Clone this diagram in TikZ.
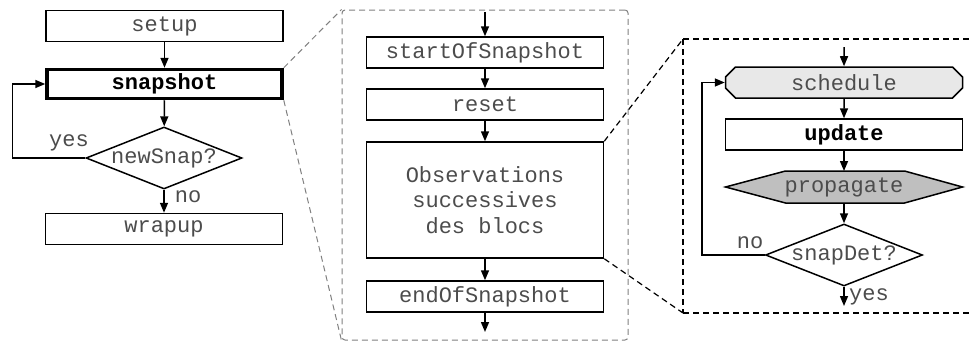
\documentclass[tikz,border=0pt]{standalone}
\usepackage{fontspec}
\setmainfont{Liberation Mono}
\usepackage{tikz}
\usetikzlibrary{arrows.meta,shapes.geometric,shapes.misc,backgrounds}
\newcommand{\flowfont}{\fontsize{22}{25.5}\selectfont}

\begin{document}
\begin{tikzpicture}[x=1pt, y=-1pt, font=\flowfont,
    block/.style={draw, line width=1.5pt, minimum width=237pt, minimum height=31pt, inner sep=0pt, text=black!70},
    bold/.style={font=\flowfont\bfseries, text=black},
    decision/.style={diamond, draw, line width=1.5pt, minimum width=156pt, minimum height=62pt, inner sep=0pt, text=black!70},
    lbl/.style={text=black!70, inner sep=0pt},
    flow/.style={-{Triangle[length=10pt,width=8pt]}, line width=1.5pt},
    zoomline/.style={dash pattern=on 6pt off 4pt, line width=1.2pt}]
      \useasboundingbox (0,0) rectangle (971,343);
      % left column
      \node[block] (setup) at (164.5,26) {setup};
      \node[block, bold, line width=3.5pt, minimum width=235pt, minimum height=29pt] (snap) at (164.5,84) {snapshot};
      \node[decision] (newsnap) at (164,158) {\makebox[0pt]{newSnap?}};
      \node[block] (wrapup) at (164,229) {wrapup};
      \draw[flow] (setup) -- (snap);
      \draw[flow] (snap) -- (newsnap);
      \draw[flow] (newsnap) -- (wrapup);
      \draw[flow] (newsnap.west) -- ++(-73,0) |- (snap.west);
      \node[lbl] (yes1) at (69,143) {yes};
      \node[lbl] (no1) at (188,197) {no};
      % middle column: inside snapshot
      \node[draw, gray, zoomline, line width=1pt, rounded corners=3pt, minimum width=286pt, minimum height=330pt] (frame1) at (485,175) {};
      \draw[gray, zoomline, line width=1pt] (snap.north east) -- (frame1.north west);
      \draw[gray, zoomline, line width=1pt] (snap.south east) -- (frame1.south west);
      \coordinate (min) at (485,12);
      \node[block] (start) at (485,52.5) {startOfSnapshot};
      \node[block] (reset) at (485,104.5) {reset};
      \node[block, minimum height=116pt, align=center] (obs) at (485,200) {Observations\\successives\\des blocs};
      \node[block] (end) at (485,296.5) {endOfSnapshot};
      \coordinate (mout) at (485,332);
      \draw[flow] (min) -- (start);
      \draw[flow] (start) -- (reset);
      \draw[flow] (reset) -- (obs);
      \draw[flow] (obs) -- (end);
      \draw[flow] (end) -- (mout);
      % right column: inside the observations
      \coordinate (frame2nw) at (683,39);
      \coordinate (frame2sw) at (683,313);
      \draw[zoomline] (frame2nw) -- (frame2sw);
      \draw[zoomline] (frame2nw) -- (985,39);
      \draw[zoomline] (frame2sw) -- (985,313);
      \draw[zoomline] (obs.north east) -- (frame2nw);
      \draw[zoomline] (obs.south east) -- (frame2sw);
      \coordinate (rin) at (844,47);
      \node[block, chamfered rectangle, chamfered rectangle xsep=5pt, chamfered rectangle ysep=5pt, fill=gray!18] (sched) at (844,82.5) {schedule};
      \node[block, bold] (update) at (844,134.5) {update};
      \node[block, draw=none, outer sep=0pt, minimum height=32pt] (prop) at (844,187) {propagate};
      \begin{scope}[on background layer]
        \filldraw[fill=gray!50, line width=1.5pt] (prop.west) -- ([xshift=60pt]prop.north west) -- ([xshift=-58pt]prop.north east) -- (prop.east) -- ([xshift=-58pt]prop.south east) -- ([xshift=60pt]prop.south west) -- cycle;
      \end{scope}
      \node[decision, minimum width=157pt] (snapdet) at (844,255) {\makebox[0pt]{snapDet?}};
      \coordinate (rout) at (844,306);
      \draw[flow] (rin) -- (sched);
      \draw[flow] (sched) -- (update);
      \draw[flow] (update) -- (prop);
      \draw[flow] (prop) -- (snapdet);
      \draw[flow] (snapdet) -- (rout);
      \draw[flow] (snapdet.west) -- ++(-63,0) |- (sched.west);
      \node[lbl] (no2) at (750,243) {no};
      \node[lbl] (yes2) at (869,297) {yes};
    \end{tikzpicture}
\end{document}
